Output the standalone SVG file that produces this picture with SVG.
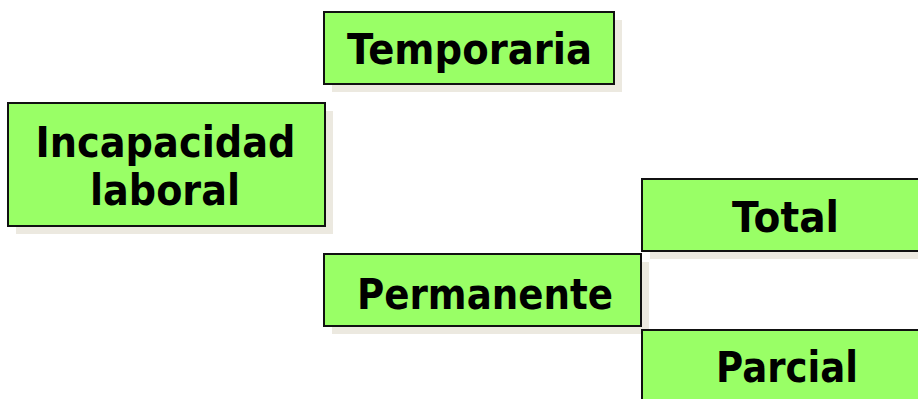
<svg xmlns="http://www.w3.org/2000/svg" width="918" height="399" viewBox="0 0 918 399">
<style>
.sh{fill:#ECE9E0}
.bx{fill:#99FF66;stroke:#111;stroke-width:2}
.t{font-family:"DejaVu Sans","Verdana",sans-serif;font-weight:bold;font-size:42px;fill:#000;text-anchor:middle}
</style>
<rect width="918" height="399" fill="#fff"/>
<g id="connectors"></g>
<g id="incapacidad">
<rect class="sh" x="16" y="111" width="317" height="123"/>
<rect class="bx" x="8" y="103" width="317" height="123"/>
<text class="t" x="165.5" y="157" textLength="260" lengthAdjust="spacingAndGlyphs">Incapacidad</text>
<text class="t" x="165" y="205" textLength="150" lengthAdjust="spacingAndGlyphs">laboral</text>
</g>
<g id="temporaria">
<rect class="sh" x="332" y="20" width="290" height="72"/>
<rect class="bx" x="324" y="12" width="290" height="72"/>
<text class="t" x="469.5" y="64" textLength="245" lengthAdjust="spacingAndGlyphs">Temporaria</text>
</g>
<g id="permanente">
<rect class="sh" x="332" y="262" width="317" height="72"/>
<rect class="bx" x="324" y="254" width="317" height="72"/>
<text class="t" x="485" y="309" textLength="256" lengthAdjust="spacingAndGlyphs">Permanente</text>
</g>
<g id="total">
<rect class="sh" x="650" y="187" width="290" height="72"/>
<rect class="bx" x="642" y="179" width="290" height="72"/>
<text class="t" x="785.5" y="232" textLength="107" lengthAdjust="spacingAndGlyphs">Total</text>
</g>
<g id="parcial">
<rect class="sh" x="650" y="338" width="290" height="72"/>
<rect class="bx" x="642" y="330" width="290" height="80"/>
<text class="t" x="787" y="382" textLength="142" lengthAdjust="spacingAndGlyphs">Parcial</text>
</g>
</svg>
